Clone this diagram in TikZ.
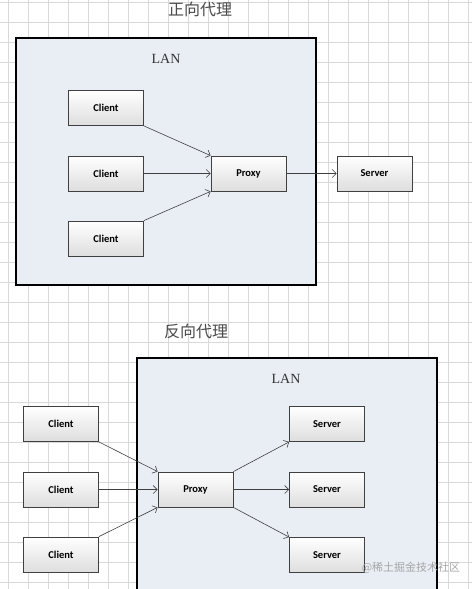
\documentclass[tikz,border=0pt]{standalone}
\usepackage{fontspec}
\setmainfont{Liberation Serif}
\newfontfamily\boxfont{Carlito}
\newfontfamily\cjkfont{Noto Sans CJK SC}
\usepackage{xcolor}
\usepackage{tikz}
\usetikzlibrary{positioning, arrows.meta}
\definecolor{gridgray}{HTML}{D9D9D9}
\definecolor{lanfill}{HTML}{E9EEF5}
\definecolor{boxline}{HTML}{404040}
\definecolor{titlegray}{HTML}{4A4A4A}

\begin{document}
\begin{tikzpicture}[x=1pt, y=-1pt,
    hostbox/.style={draw=boxline, line width=0.8pt, top color=white, bottom color=black!13,
      minimum width=75pt, minimum height=35pt, inner sep=0pt,
      font=\boxfont\bfseries\fontsize{10.5}{12}\selectfont},
    lanbox/.style={draw=black, line width=1.1pt, fill=lanfill},
    link/.style={draw=boxline, line width=0.6pt, -{Straight Barb[length=4pt, width=8pt]}},
    title/.style={text=titlegray, font=\cjkfont\fontsize{16}{18}\selectfont},
    lanlabel/.style={text=black!80, font=\fontsize{14}{16}\selectfont}]
  \useasboundingbox (0,0) rectangle (472,589);
  \clip (0,0) rectangle (472,589);
  % background grid
  \foreach \gx in {8,28,...,468} \draw[gridgray, line width=0.6pt] (\gx,0) -- (\gx,589);
  \foreach \gy in {2,22,...,582} \draw[gridgray, line width=0.6pt] (0,\gy) -- (472,\gy);

  % forward proxy
  \node[title] (fwdtitle) at (200,9) {正向代理};
  \draw[lanbox] (16,38) rectangle (316,285);
  \node[lanlabel] (fwdlan) at (166,59) {LAN};
  \node[hostbox] (fclient1) at (106,108) {Client};
  \node[hostbox] (fclient2) at (106,173.5) {Client};
  \node[hostbox] (fclient3) at (106,238.5) {Client};
  \node[hostbox] (fproxy) at (248.5,173.5) {Proxy};
  \node[hostbox] (fserver) at (374.5,173.5) {Server};
  \draw[link] (fclient1.south east) -- (fproxy.north west);
  \draw[link] (fclient2.east) -- (fproxy.west);
  \draw[link] (fclient3.north east) -- (fproxy.south west);
  \draw[link] (fproxy.east) -- (fserver.west);

  % reverse proxy
  \node[title] (revtitle) at (196,331) {反向代理};
  \draw[lanbox] (137,358) rectangle (437,600);
  \node[lanlabel] (revlan) at (286,379) {LAN};
  \node[hostbox] (rclient1) at (61,424) {Client};
  \node[hostbox] (rclient2) at (61,489.5) {Client};
  \node[hostbox] (rclient3) at (61,554.5) {Client};
  \node[hostbox] (rproxy) at (195.5,489.5) {Proxy};
  \node[hostbox] (rserver1) at (327,424) {Server};
  \node[hostbox] (rserver2) at (327,489.5) {Server};
  \node[hostbox] (rserver3) at (327,555) {Server};
  \draw[link] (rclient1.south east) -- (rproxy.north west);
  \draw[link] (rclient2.east) -- (rproxy.west);
  \draw[link] (rclient3.north east) -- (rproxy.south west);
  \draw[link] (rproxy.north east) -- (rserver1.south west);
  \draw[link] (rproxy.east) -- (rserver2.west);
  \draw[link] (rproxy.south east) -- (rserver3.north west);

  \node[text=black!35, font=\cjkfont\fontsize{11}{12}\selectfont] (mark) at (411,568) {@稀土掘金技术社区};
\end{tikzpicture}
\end{document}
